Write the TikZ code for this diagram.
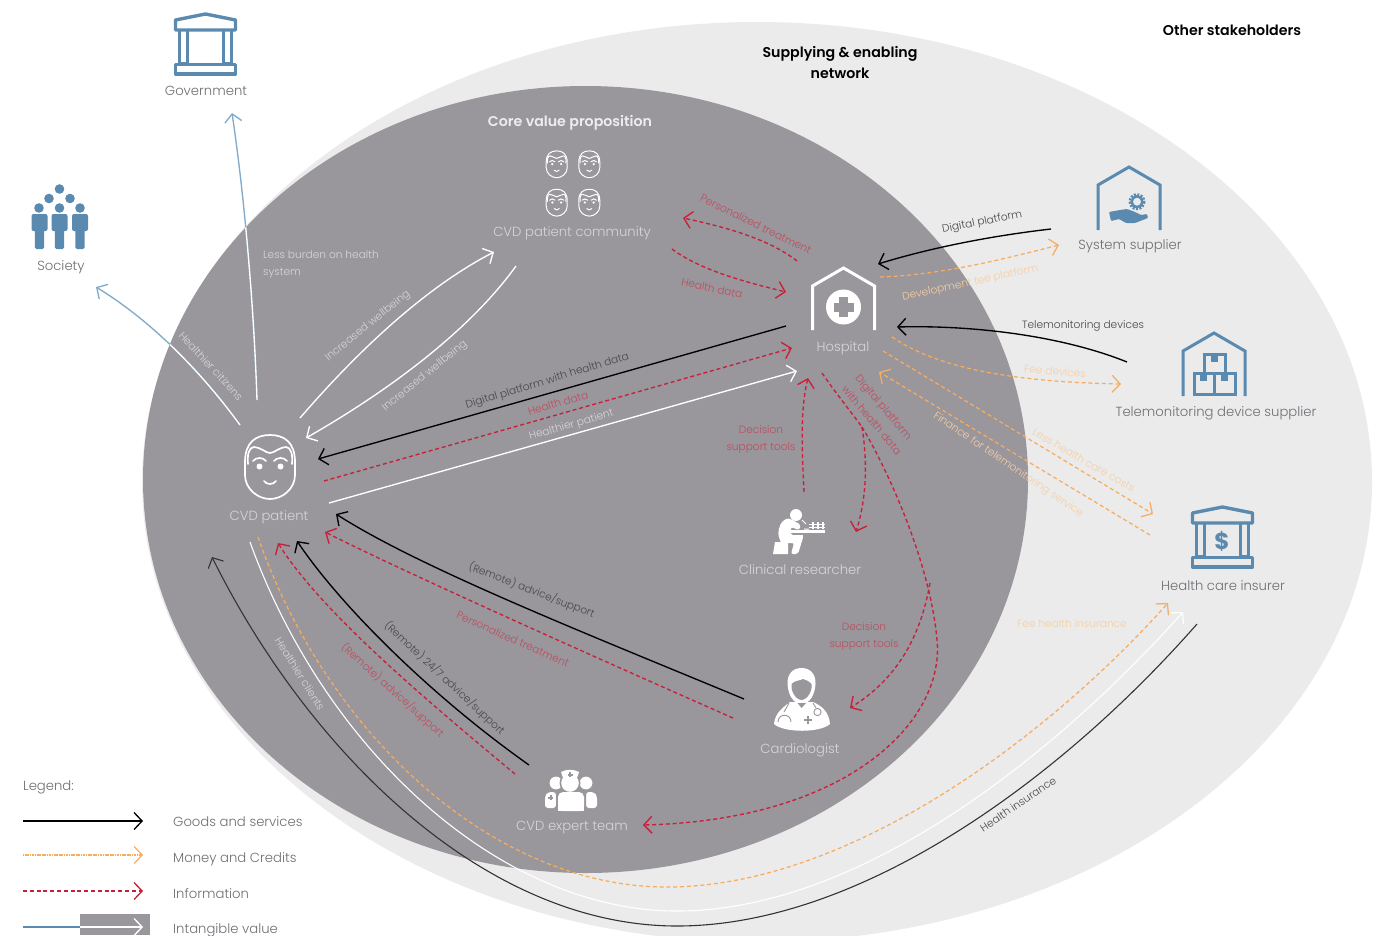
\documentclass[tikz,border=0pt]{standalone}
\usepackage{fontspec}
\setmainfont{Poppins}
\newfontfamily\lightf[UprightFont=* Light]{Poppins}
\newfontfamily\semif[UprightFont=* SemiBold]{Poppins}
\usetikzlibrary{arrows.meta,calc}
\definecolor{coregrey}{HTML}{99969C}
\definecolor{outergrey}{HTML}{EBEBEB}
\definecolor{iconblue}{HTML}{5A8AAF}
\definecolor{skyline}{HTML}{82ABCB}
\definecolor{infored}{HTML}{C8203A}
\definecolor{moneyor}{HTML}{F7AC60}
\definecolor{inkgrey}{HTML}{6E6E74}
\definecolor{palelab}{HTML}{D6D6D9}
\definecolor{redlab}{HTML}{BE4E5E}
\definecolor{orlab}{HTML}{F5CFA4}
\definecolor{darklab}{HTML}{47474C}
\tikzset{
  x=1pt,y=-1pt,
  tipbarb/.style={-{Straight Barb[length=8pt,width=17pt]}},
  goods/.style={draw=black,line width=1.35pt,tipbarb},
  goodsthin/.style={draw=black!80,line width=1.1pt,tipbarb},
  whiteflow/.style={draw=white,line width=1.35pt,tipbarb},
  whitethin/.style={draw=white,line width=1.1pt,tipbarb},
  money/.style={draw=moneyor,line width=1.25pt,dash pattern=on 4pt off 2.8pt,tipbarb},
  info/.style={draw=infored,line width=1.35pt,dash pattern=on 4pt off 2.8pt,tipbarb},
  skyflow/.style={draw=skyline,line width=1.35pt,tipbarb},
  txt/.style={inner sep=0pt,font=\lightf\fontsize{#1}{#1}\selectfont},
  txt/.default=11,
  bigone/.style={text height=10pt,text depth=0pt},
  smallone/.style={text height=8pt,text depth=0pt},
  actorin/.style={txt=13.2,text=palelab,bigone},
  actorout/.style={txt=13.2,text=inkgrey,bigone},
  paleL/.style={txt=10.6,text=palelab,smallone},
  redL/.style={txt=10.6,text=redlab,smallone},
  orL/.style={txt=10.6,text=orlab,smallone},
  darkL/.style={txt=10.6,text=darklab,smallone},
  twolines/.style={inner sep=0pt,font=\lightf\fontsize{10.6}{17.5}\selectfont},
  headL/.style={inner sep=0pt,align=center,font=\semif\fontsize{14.2}{21}\selectfont},
  legL/.style={txt=13.2,text=inkgrey,anchor=west,bigone},
}
\newcommand{\faceicon}[4]{%
  \begin{scope}[shift={(#1,#2)},scale=#3,draw=white,line width=#4,line cap=round,line join=round,fill=white]
    \draw (-25,-5) .. controls (-25,-25) and (-14,-32) .. (0,-32)
      .. controls (14,-32) and (25,-25) .. (25,-5) -- (25,8)
      .. controls (25,22) and (12,32) .. (0,32)
      .. controls (-12,32) and (-25,22) .. (-25,8) -- cycle;
    \draw (-22,-3) .. controls (-23,-12) and (-21,-20) .. (-16,-20)
      .. controls (-10,-20) and (-4,-14) .. (0,-14)
      .. controls (4,-14) and (10,-20) .. (16,-20)
      .. controls (21,-20) and (23,-12) .. (22,-3);
    \fill (-10.5,-.5) circle (3);
    \fill (10.5,-.5) circle (3);
    \draw (-17,-6) .. controls (-14,-10) and (-7,-10) .. (-4,-6);
    \draw (17,-6) .. controls (14,-10) and (7,-10) .. (4,-6);
    \draw (-6,14) .. controls (-3,18) and (3,18) .. (6,14);
  \end{scope}}
\newcommand{\houseicon}[6]{% apex x,y, half width, shoulder y, bottom y, colour
  \draw[#6,line width=3pt,miter limit=10] (#1-#3,#5) -- (#1-#3,#4) -- (#1,#2) -- (#1+#3,#4) -- (#1+#3,#5);}
\newcommand{\templeicon}[2]{% x,y of centre top
  \begin{scope}[shift={(#1,#2)},draw=iconblue,line width=3.4pt,line join=round]
    \draw (-30,8) -- (0,2) -- (30,8) -- (30,18) -- (-30,18) -- cycle;
    \draw (-26,18) -- (-26,52) -- (-18,52) -- (-18,18);
    \draw (26,18) -- (26,52) -- (18,52) -- (18,18);
    \draw (-30,52.5) rectangle (30,62);
  \end{scope}}
\begin{document}
\begin{tikzpicture}
\useasboundingbox (0,0) rectangle (1394,935);
\fill[outergrey] (757,482) ellipse [x radius=615,y radius=460];
\fill[coregrey] (585.5,479.5) ellipse [x radius=442.5,y radius=393.5];

% ---------- actors ----------
\node[actorout] (government) at (206,90) {Government};
\node[actorout] (society) at (61,265) {Society};
\node[actorin] (community) at (572,231) {CVD patient community};
\node[actorin] (patient) at (269,515) {CVD patient};
\node[actorin] (hospital) at (843,346) {Hospital};
\node[actorout] (system) at (1130,244) {System supplier};
\node[actorout] (telesup) at (1216,411) {Telemonitoring device supplier};
\node[actorout] (insurer) at (1223,585) {Health care insurer};
\node[actorin] (researcher) at (800,569) {Clinical researcher};
\node[actorin] (cardio) at (800,748) {Cardiologist};
\node[actorin] (expert) at (572,825) {CVD expert team};

% ---------- icons ----------
\templeicon{205.5}{12}
\templeicon{1222.5}{505}
\node[inner sep=0pt,text=iconblue,font=\bfseries\fontsize{23}{23}\selectfont] (dollar) at (1222,541) {\$};
% society
\begin{scope}[fill=iconblue]
  \foreach \p in {(59.5,189),(49,198.5),(70,198.5),(39,208),(59.5,208),(80,208)} \fill \p circle (4.8);
  \foreach \q in {39.5,59.5,80} {
    \fill[rounded corners=2pt] (\q-8,214) rectangle (\q+8,231);
    \fill[rounded corners=1.5pt] (\q-4.6,225) rectangle (\q+4.6,249);
  }
\end{scope}
% faces
\faceicon{270}{467}{1}{1.7pt}
\faceicon{556.7}{164.3}{.42}{1pt}
\faceicon{589.3}{164.3}{.42}{1pt}
\faceicon{556.7}{202.7}{.42}{1pt}
\faceicon{589.3}{202.7}{.42}{1pt}
% hospital
\houseicon{843.5}{268}{31}{286}{330}{white}
\fill[white] (843.5,307) circle (17.5);
\fill[coregrey] (839,297) rectangle (848,317);
\fill[coregrey] (833.5,302.5) rectangle (853.5,311.5);
% system supplier
\houseicon{1129}{167}{31}{185}{230}{iconblue}
\draw[iconblue,line width=2.6pt,dash pattern=on 2pt off 1.4pt] (1137,201.7) circle (7.2);
\draw[iconblue,line width=2.4pt] (1137,201.7) circle (5.4);
\fill[iconblue,rounded corners=1pt] (1109,212) -- (1120,210) -- (1127,209) -- (1135,212) -- (1141,215) -- (1147,214) -- (1148,218) -- (1135,223) -- (1126,223) -- (1119,219) -- (1111,221) -- cycle;
% telemonitoring supplier
\houseicon{1214}{333}{31}{351}{396}{iconblue}
\begin{scope}[iconblue,line width=3pt]
  \draw (1204,373) -- (1204,354.5) -- (1225.5,354.5) -- (1225.5,373);
  \draw (1194.5,373.5) rectangle (1235,394.5);
  \draw (1214.5,373.5) -- (1214.5,394.5);
  \fill (1211,354) rectangle (1218,362);
  \fill (1200,373) rectangle (1207,381);
  \fill (1221,373) rectangle (1228,381);
\end{scope}
% clinical researcher
\begin{scope}[white]
  \fill (796,515) circle (6);
  \fill[rounded corners=2pt] (779,530) .. controls (780,522) and (786,518) .. (791,519) -- (801,525) -- (799,530) -- (791,527) -- (791,535) -- (801,535) .. controls (803,535) and (803,538) .. (802,541) -- (798,554) -- (791,554) -- (794,543) -- (781,543) .. controls (779,538) and (778,534) .. (779,530) -- cycle;
  \fill (773,554) -- (775,542) -- (788,542) -- (788,554) -- cycle;
  \fill (791,530) rectangle (825,533);
  \draw[line width=1pt] (802,520) -- (806,524) (804,529) -- (809,529);
  \draw[line width=1.2pt] (813,522) -- (813,529) (818,522) -- (818,529) (823,522) -- (823,529);
  \draw[line width=.8pt] (809,524) -- (825,524) (809,527) -- (825,527);
\end{scope}
% cardiologist
\fill[white] (774,724) .. controls (775,712) and (785,706) .. (790,702) -- (813,702) .. controls (822,706) and (829,712) .. (830,724) .. controls (820,733) and (784,733) .. (774,724) -- cycle;
\fill[white] (801.5,668) .. controls (811,668) and (816,675) .. (815.5,684) .. controls (815,694) and (810,704) .. (801.5,704) .. controls (793,704) and (788,694) .. (787.5,684) .. controls (787,675) and (792,668) .. (801.5,668) -- cycle;
\fill[coregrey] (791.5,684) .. controls (795,680) and (800,681) .. (803,679) .. controls (806,680) and (809,681) .. (811.5,684) -- (811.5,688) .. controls (810,696) and (805,700) .. (801.5,700) .. controls (798,700) and (793,696) .. (791.5,688) -- cycle;
\fill[coregrey] (797.5,703) -- (801.5,708) -- (806,703) -- cycle;
\begin{scope}[coregrey,line width=.9pt]
  \draw (789,703) -- (784,712);
  \draw (778,722) .. controls (778,713) and (791,713) .. (791,722);
  \draw (813,703) -- (816,708);
  \draw (817.5,712) circle (3.6);
\end{scope}
\fill[coregrey] (806.7,716) rectangle (809.3,724);
\fill[coregrey] (804,718.7) rectangle (812,721.3);
% expert team
\fill[white] (556,783) circle (6.4);
\fill[white] (586,783) circle (6.4);
\fill[white,rounded corners=3pt] (545,808) -- (545,796) -- (548,792) -- (556,792) -- (556,808) -- cycle;
\fill[white,rounded corners=3pt] (597,808) -- (597,796) -- (594,792) -- (586,792) -- (586,808) -- cycle;
\fill[coregrey] (570,783) circle (10.5);
\fill[coregrey,rounded corners=4pt] (556,790) rectangle (586,812);
\fill[white] (570,783) circle (8.8);
\fill[white] (561,772) .. controls (566,769) and (574,769) .. (579,772) -- (577,778) -- (563,778) -- cycle;
\fill[white,rounded corners=5pt] (558,811) -- (558,792) -- (584,792) -- (584,811) -- cycle;
\fill[white] (558,804) rectangle (584,811);
\fill[coregrey] (569,772) rectangle (571,777);
\fill[coregrey] (567.5,773.5) rectangle (572.5,775.5);
\fill[coregrey] (549.5,795) rectangle (551.5,800);
\fill[coregrey] (548,796.5) rectangle (553,798.5);

% ---------- intangible value, blue outside and white inside the core ----------
\draw[skyflow] ($(patient)+(-29,-90)$) .. controls (200,370) and (150,320) .. ($(society)+(35,22)$);
\draw[skyflow] ($(patient)+(-12,-115)$) .. controls (254,310) and (245,200) .. ($(government)+(26,23)$);
\begin{scope}
  \clip (585.5,479.5) ellipse [x radius=442.5,y radius=393.5];
  \draw[whiteflow] ($(patient)+(-29,-90)$) .. controls (200,370) and (150,320) .. ($(society)+(35,22)$);
  \draw[whiteflow] ($(patient)+(-12,-115)$) .. controls (254,310) and (245,200) .. ($(government)+(26,23)$);
\end{scope}
\draw[whiteflow] ($(patient)+(31,-97)$) .. controls (350,360) and (420,290) .. ($(community)+(-78,21)$);
\draw[whiteflow] ($(community)+(-56,35)$) .. controls (470,330) and (390,390) .. ($(patient)+(37,-77)$);
\draw[whiteflow] ($(patient)+(60,-12)$) -- ($(hospital)+(-46,25)$);

% ---------- patient and hospital ----------
\draw[goods] ($(hospital)+(-57,-20)$) -- ($(patient)+(49,-56)$);
\draw[info] ($(patient)+(55,-34)$) -- ($(hospital)+(-51,2)$);

% ---------- cardiologist and expert team to patient ----------
\draw[goods] ($(cardio)+(-56,-49)$) .. controls (590,635) and (420,568) .. ($(patient)+(67,-1)$);
\draw[info] ($(cardio)+(-67,-30)$) .. controls (590,655) and (400,570) .. ($(patient)+(56,17)$);
\draw[goods] ($(expert)+(-43,-60)$) .. controls (430,695) and (340,605) .. ($(patient)+(28,26)$);
\draw[info] ($(expert)+(-57,-51)$) .. controls (420,695) and (320,610) .. ($(patient)+(9,28)$);

% ---------- community and hospital ----------
\draw[info] ($(hospital)+(-46,-85)$) .. controls (770,240) and (730,228) .. ($(community)+(111,-13)$);
\draw[info] ($(community)+(100,18)$) .. controls (700,270) and (745,282) .. ($(hospital)+(-57,-54)$);

% ---------- suppliers and hospital ----------
\draw[goods] ($(system)+(-79,-15)$) .. controls (990,236) and (930,248) .. ($(hospital)+(35,-82)$);
\draw[money] ($(hospital)+(37,-69)$) .. controls (940,275) and (1000,260) .. ($(system)+(-71,1)$);
\draw[goods] ($(telesup)+(-89,-49)$) .. controls (1060,335) and (970,325) .. ($(hospital)+(54,-19)$);
\draw[money] ($(hospital)+(49,-9)$) .. controls (940,370) and (1020,382) .. ($(telesup)+(-95,-27)$);
\draw[money] ($(hospital)+(40,5)$) -- ($(insurer)+(-70,-71)$);
\draw[money] ($(insurer)+(-73,-50)$) -- ($(hospital)+(36,26)$);

% ---------- hospital, researcher, cardiologist, expert team ----------
\draw[info] ($(researcher)+(4,-77)$) .. controls (802,450) and (800,410) .. ($(hospital)+(-35,32)$);
\coordinate (split) at (862,427);
\coordinate (fork) at (930,583);
\draw[info,-] ($(hospital)+(-21,27)$) .. controls (835,392) and (848,408) .. (split);
\draw[info] (split) .. controls (868,465) and (866,500) .. ($(researcher)+(56,-37)$);
\draw[info] (split) .. controls (885,465) and (930,560) .. (937,640) .. controls (945,720) and (850,820) .. ($(expert)+(71,0)$);
\draw[info] (fork) .. controls (920,640) and (895,680) .. ($(cardio)+(50,-40)$);

% ---------- insurer and patient ----------
\draw[goodsthin] ($(insurer)+(-26,39)$) .. controls (1060,780) and (860,926) .. (677,926) .. controls (480,926) and (305,745) .. ($(patient)+(-57,42)$);
\draw[whitethin] ($(patient)+(-19,27)$) .. controls (325,750) and (500,911) .. (677,911) .. controls (860,911) and (1055,755) .. ($(insurer)+(-40,27)$);
\draw[money] ($(patient)+(-11,22)$) .. controls (325,730) and (490,887) .. (667,887) .. controls (850,887) and (1050,735) .. ($(insurer)+(-55,18)$);

% ---------- connector labels ----------
\node[text=palelab,twolines,align=left,anchor=north west] (burden) at (263,250) {Less burden on health\\system};
\node[paleL,rotate=-47] (citizens) at (211,366) {Healthier citizens};
\node[paleL,rotate=39] (well1) at (367,325) {Increased wellbeing};
\node[paleL,rotate=39] (well2) at (424,375) {Increased wellbeing};
\node[darkL,rotate=17] (dphd) at (547,380) {Digital platform with health data};
\node[redL,rotate=16] (hd1) at (558,403) {Health data};
\node[paleL,rotate=16] (hp) at (571,424) {Healthier patient};
\node[redL,rotate=-26] (pt1) at (756,224) {Personalized treatment};
\node[redL,rotate=-12] (hd2) at (712,288) {Health data};
\node[darkL,rotate=11] (dp) at (982,221) {Digital platform};
\node[orL,rotate=12] (devfee) at (970,282) {Development fee platform};
\node[darkL] (tdev) at (1083,324) {Telemonitoring devices};
\node[orL,rotate=-5] (feed) at (1055,371) {Fee devices};
\node[orL,rotate=-30] (lhc) at (1084,460) {Less health care costs};
\node[orL,rotate=-34] (fin) at (1009,464) {Finance for telemonitoring service};
\node[text=redlab,twolines,align=center] (dst1) at (761,439.5) {Decision\\support tools};
\node[text=redlab,twolines,align=center] (dst2) at (864,636.5) {Decision\\support tools};
\node[redL,rotate=-50] (dpa) at (884,407) {Digital platform};
\node[redL,rotate=-50] (dpb) at (872,420) {with health data};
\node[darkL,rotate=-21] (ra) at (532,590) {(Remote) advice/support};
\node[redL,rotate=-24] (pt2) at (513,639) {Personalized treatment};
\node[darkL,rotate=-43] (r247) at (445,678) {(Remote) 24/7 advice/support};
\node[redL,rotate=-42] (rr) at (393,690) {(Remote) advice/support};
\node[paleL,rotate=-58] (hc) at (300,674) {Healthier clients};
\node[orL] (feeh) at (1072,623) {Fee health insurance};
\node[darkL,rotate=34] (hi) at (1018,804) {Health insurance};

% ---------- headings ----------
\node[headL,text=white!93!black] (corehead) at (570,123) {Core value proposition};
\node[headL,text=black] (supply) at (840,62) {Supplying \& enabling\\network};
\node[headL,text=black] (other) at (1232,30) {Other stakeholders};

% ---------- legend ----------
\node[legL] (legend) at (23,785) {Legend:};
\node[legL] (lg1) at (173,821) {Goods and services};
\node[legL] (lg2) at (173,857) {Money and Credits};
\node[legL] (lg3) at (173,893) {Information};
\node[legL] (lg4) at (173,928) {Intangible value};
\coordinate (la1) at (23,821); \coordinate (lb1) at (143,821);
\coordinate (la2) at (23,855); \coordinate (lb2) at (143,855);
\coordinate (la3) at (23,891); \coordinate (lb3) at (143,891);
\coordinate (la4) at (23,927); \coordinate (lb4) at (143,927);
\draw[goods] (la1) -- (lb1);
\draw[draw=moneyor,line width=1.2pt,dash pattern=on 1.2pt off .5pt,tipbarb] (la2) -- (lb2);
\draw[info] (la3) -- (lb3);
\fill[coregrey] (80,914) rectangle (150,935);
\draw[iconblue,line width=1.3pt] (la4) -- (80,927);
\draw[whiteflow] (80,927) -- (lb4);
\end{tikzpicture}
\end{document}
